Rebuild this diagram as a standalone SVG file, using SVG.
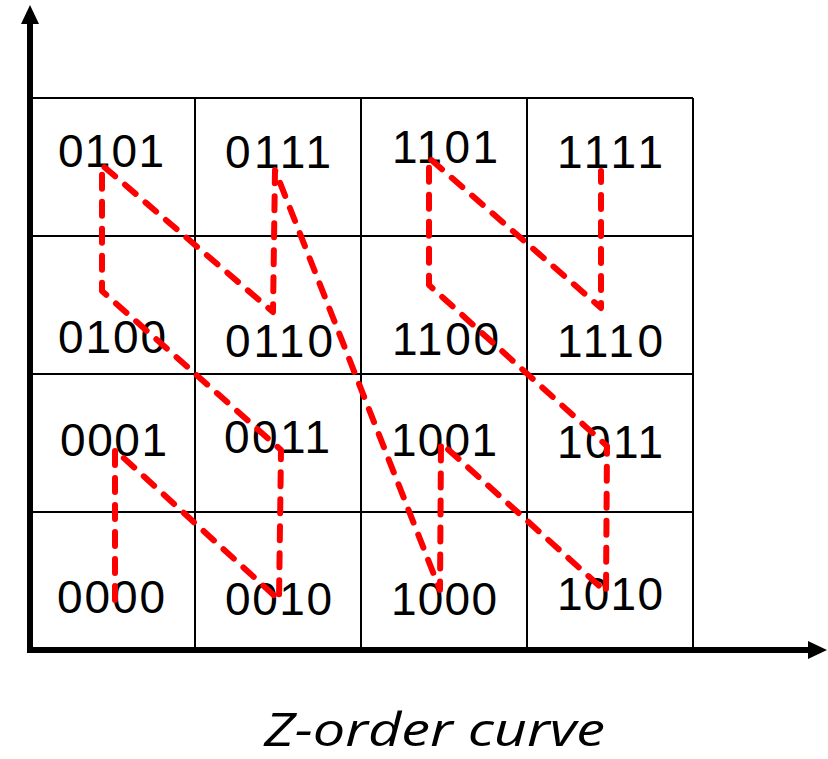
<svg xmlns="http://www.w3.org/2000/svg" width="828" height="759" viewBox="0 0 828 759">
  <style>
    .grid { stroke: #000; stroke-width: 2; fill: none; }
    .axis { stroke: #000; stroke-width: 6; fill: none; }
    .lbl { font-family: "Liberation Sans", Arial, sans-serif; font-size: 46px; fill: #000; }
    .curve { stroke: #ff0000; stroke-width: 6; fill: none; stroke-dasharray: 14 13; stroke-linecap: round; stroke-linejoin: round; }
    .title { font-family: "Open Sans", "Liberation Sans", sans-serif; font-size: 45px; font-style: italic; fill: #000; }
  </style>
  <rect x="0" y="0" width="828" height="759" fill="#fff"/>
  <g id="grid">
    <line class="grid" x1="30" y1="98" x2="693" y2="98"/>
    <line class="grid" x1="30" y1="236" x2="693" y2="236"/>
    <line class="grid" x1="30" y1="374" x2="693" y2="374"/>
    <line class="grid" x1="30" y1="512" x2="693" y2="512"/>
    <line class="grid" x1="195" y1="98" x2="195" y2="650"/>
    <line class="grid" x1="361" y1="98" x2="361" y2="650"/>
    <line class="grid" x1="527" y1="98" x2="527" y2="650"/>
    <line class="grid" x1="693" y1="98" x2="693" y2="650"/>
  </g>
  <g id="axes">
    <line class="axis" x1="30" y1="653" x2="30" y2="22"/>
    <polygon points="30,5 21,24 39,24" fill="#000"/>
    <line class="axis" x1="27" y1="650" x2="810" y2="650"/>
    <polygon points="827,650 808,641 808,659" fill="#000"/>
  </g>
  <g id="cell-0101"><text class="lbl" x="58" y="167" textLength="106">0101</text></g>
  <g id="cell-0111"><text class="lbl" x="225" y="168" textLength="106">0111</text></g>
  <g id="cell-1101"><text class="lbl" x="392" y="163" textLength="106">1101</text></g>
  <g id="cell-1111"><text class="lbl" x="557" y="168" textLength="106">1111</text></g>
  <g id="cell-0100"><text class="lbl" x="58" y="353" textLength="108">0100</text></g>
  <g id="cell-0110"><text class="lbl" x="225" y="357" textLength="108">0110</text></g>
  <g id="cell-1100"><text class="lbl" x="392" y="355" textLength="107">1100</text></g>
  <g id="cell-1110"><text class="lbl" x="557" y="357" textLength="106">1110</text></g>
  <g id="cell-0001"><text class="lbl" x="60" y="456" textLength="107">0001</text></g>
  <g id="cell-0011"><text class="lbl" x="224" y="453" textLength="106">0011</text></g>
  <g id="cell-1001"><text class="lbl" x="391" y="456" textLength="106">1001</text></g>
  <g id="cell-1011"><text class="lbl" x="557" y="458" textLength="106">1011</text></g>
  <g id="cell-0000"><text class="lbl" x="57" y="613" textLength="108">0000</text></g>
  <g id="cell-0010"><text class="lbl" x="225" y="615" textLength="107">0010</text></g>
  <g id="cell-1000"><text class="lbl" x="391" y="615" textLength="106">1000</text></g>
  <g id="cell-1010"><text class="lbl" x="557" y="610" textLength="106">1010</text></g>
  <g id="connectors">
    <polyline class="curve" points="115,600 115,450 279,600 281,450 102,291 102,165 273,312 275,170 440,590 441,443 606,592 607,446 429,285 429,158 601,308 601,171"/>
  </g>
  <g id="caption"><text class="title" x="264" y="746" textLength="341" lengthAdjust="spacingAndGlyphs">Z-order curve</text></g>
</svg>
